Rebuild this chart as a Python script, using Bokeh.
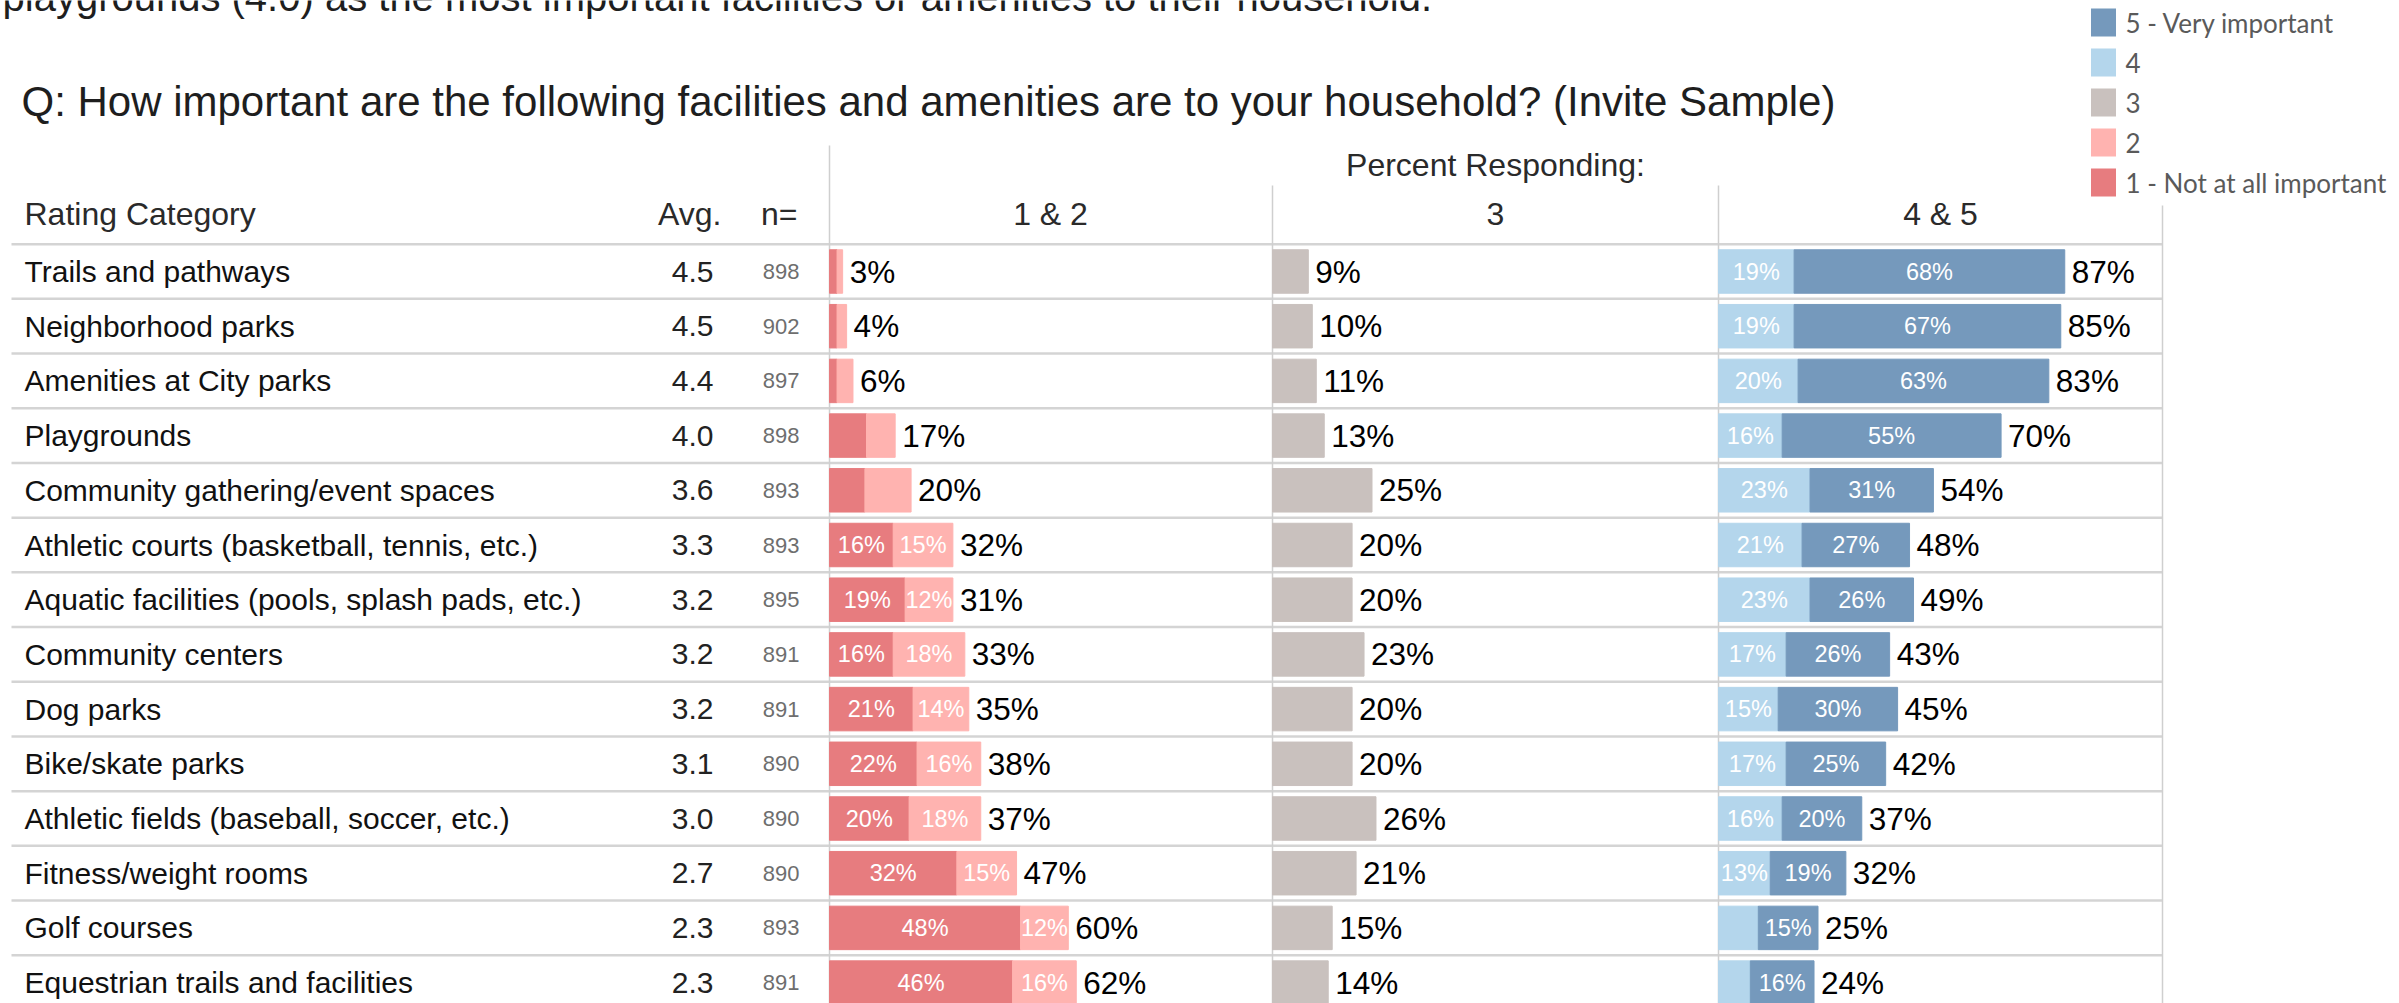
import numpy as np
from bokeh.plotting import figure
from bokeh.models import Range1d
from bokeh.core.properties import value
from bokeh.embed import file_html
from bokeh.resources import INLINE

# ---------------- data ----------------
categories = [
    "Trails and pathways",
    "Neighborhood parks",
    "Amenities at City parks",
    "Playgrounds",
    "Community gathering/event spaces",
    "Athletic courts (basketball, tennis, etc.)",
    "Aquatic facilities (pools, splash pads, etc.)",
    "Community centers",
    "Dog parks",
    "Bike/skate parks",
    "Athletic fields (baseball, soccer, etc.)",
    "Fitness/weight rooms",
    "Golf courses",
    "Equestrian trails and facilities",
]
avg = [4.5, 4.5, 4.4, 4.0, 3.6, 3.3, 3.2, 3.2, 3.2, 3.1, 3.0, 2.7, 2.3, 2.3]
n_resp = [898, 902, 897, 898, 893, 893, 895, 891, 891, 890, 890, 890, 893, 891]
pct1 = [1.9, 1.9, 1.9, 9.3, 8.9, 16, 19, 16, 21, 22, 20, 32, 48, 46]
pct2 = [1.4, 2.4, 4.0, 7.2, 11.6, 15, 12, 18, 14, 16, 18, 15, 12, 16]
pct3 = [9, 10, 11, 13, 25, 20, 20, 23, 20, 20, 26, 21, 15, 14]
pct4 = [19, 19, 20, 16, 23, 21, 23, 17, 15, 17, 16, 13, 10, 8]
pct5 = [68, 67, 63, 55, 31, 27, 26, 26, 30, 25, 20, 19, 15, 16]
total12 = [3, 4, 6, 17, 20, 32, 31, 33, 35, 38, 37, 47, 60, 62]
total3 = pct3
total45 = [87, 85, 83, 70, 54, 48, 49, 43, 45, 42, 37, 32, 25, 24]
panel_headers = ["1 & 2", "3", "4 & 5"]
legend_labels = ["5 - Very important", "4", "3", "2", "1 - Not at all important"]

title_text = "Q: How important are the following facilities and amenities are to your household? (Invite Sample)"
top_text = "playgrounds (4.0) as the most important facilities or amenities to their household."

# ---------------- style ----------------
C1, C2, C3, C4, C5 = "#E77C7F", "#FFB3B0", "#C9C1BE", "#B4D6EC", "#7599BC"
legend_colors = [C5, C4, C3, C2, C1]
FONT = value("Liberation Sans")
LFONT = value("Lato")

W, H = 2399, 1003
PX = 3.98                         # pixels per percent
ZERO = {"p1": 829, "p2": 1272, "p3": 1718}
ROW0, PITCH = 271, 54.7
LABEL_MIN = 12

p = figure(width=W, height=H,
           x_range=Range1d(0, W), y_range=Range1d(H, 0),
           output_backend="svg", toolbar_location=None,
           x_axis_location=None, y_axis_location=None, title=None,
           min_border=0, min_border_left=0, min_border_right=0,
           min_border_top=0, min_border_bottom=0,
           outline_line_color=None, background_fill_color="white",
           border_fill_color="white")
p.grid.visible = False
p.extra_x_ranges = {k: Range1d(-z / PX, (W - z) / PX) for k, z in ZERO.items()}
p.extra_y_ranges = {"rows": Range1d((H - ROW0) / PITCH, -ROW0 / PITCH)}

rows = np.arange(len(categories))

# ---------------- grid lines ----------------
sep = np.arange(len(categories) + 1) - 0.5
p.segment(x0=[11] * len(sep), x1=[2162] * len(sep), y0=sep, y1=sep,
          y_range_name="rows", line_color="#D4D4D4", line_width=2.5)
p.segment(x0=[829, 1272, 1718, 2162], x1=[829, 1272, 1718, 2162],
          y0=[145, 185, 185, 205], y1=[H] * 4,
          line_color="#CFCFCF", line_width=1.5)

# ---------------- bars ----------------
BH = 0.795
a1 = np.array(pct1, float); a2 = np.array(pct2, float)
a3 = np.array(pct3, float); a4 = np.array(pct4, float); a5 = np.array(pct5, float)

p.hbar(y=rows, left=0, right=a1, height=BH, color=C1, x_range_name="p1", y_range_name="rows")
p.hbar(y=rows, left=a1, right=a1 + a2, height=BH, color=C2, x_range_name="p1", y_range_name="rows")
p.hbar(y=rows, left=0, right=a3, height=BH, color=C3, x_range_name="p2", y_range_name="rows")
p.hbar(y=rows, left=0, right=a4, height=BH, color=C4, x_range_name="p3", y_range_name="rows")
p.hbar(y=rows, left=a4, right=a4 + a5, height=BH, color=C5, x_range_name="p3", y_range_name="rows")

def seg_labels(vals):
    return [f"{round(v)}%" if v >= LABEL_MIN else "" for v in vals]

inner = [("p1", a1 / 2, seg_labels(a1)), ("p1", a1 + a2 / 2, seg_labels(a2)),
         ("p3", a4 / 2, seg_labels(a4)), ("p3", a4 + a5 / 2, seg_labels(a5))]
for rng, xs, labs in inner:
    p.text(x=xs, y=rows, text=labs, x_range_name=rng, y_range_name="rows",
           text_font=FONT, text_font_size="23.5px", text_color="white",
           text_align="center", text_baseline="middle")

for rng, ends, tots in [("p1", a1 + a2, total12), ("p2", a3, total3), ("p3", a4 + a5, total45)]:
    p.text(x=ends, y=rows, text=[f"{t}%" for t in tots], x_range_name=rng, y_range_name="rows",
           x_offset=7, text_font=FONT, text_font_size="31.5px", text_color="black",
           text_align="left", text_baseline="middle")

# ---------------- table text ----------------
p.text(x=[24] * len(rows), y=rows, text=categories, y_range_name="rows",
       text_font=FONT, text_font_size="30px", text_color="#111111",
       text_align="left", text_baseline="middle")
p.text(x=[713] * len(rows), y=rows, text=[f"{a:.1f}" for a in avg], y_range_name="rows",
       text_font=FONT, text_font_size="30px", text_color="#222222",
       text_align="right", text_baseline="middle")
p.text(x=[799] * len(rows), y=rows, text=[str(n) for n in n_resp], y_range_name="rows",
       text_font=FONT, text_font_size="22px", text_color="#6E6E6E",
       text_align="right", text_baseline="middle")

# headers
hdr = dict(text_font=FONT, text_font_size="32px", text_color="#2A2A2A", text_baseline="alphabetic")
p.text(x=[24], y=[213], text=["Rating Category"], text_align="left", **hdr)
p.text(x=[721], y=[213], text=["Avg."], text_align="right", **hdr)
p.text(x=[797], y=[213], text=["n="], text_align="right", **hdr)
p.text(x=[1050, 1495, 1940], y=[213] * 3, text=panel_headers, text_align="center", **hdr)
p.text(x=[1495], y=[164.5], text=["Percent Responding:"], text_align="center", **hdr)

p.text(x=[21], y=[101], text=[title_text], text_font=FONT, text_font_size="42px",
       text_color="#1E1E1E", text_align="left", text_baseline="alphabetic")
p.text(x=[2], y=[-4], text=[top_text], text_font=FONT, text_font_size="40px",
       text_color="#1E1E1E", text_align="left", text_baseline="alphabetic")

# ---------------- legend ----------------
ly = [22, 62, 102, 142, 182]
p.rect(x=[2103] * 5, y=ly, width=25, height=28, fill_color=legend_colors, line_color=None)
p.text(x=[2125] * 5, y=ly, text=legend_labels, text_font=LFONT, text_font_size="26px",
       text_color="#5A5A5A", text_align="left", text_baseline="middle")

open("out.html", "w").write(file_html(p, INLINE))
